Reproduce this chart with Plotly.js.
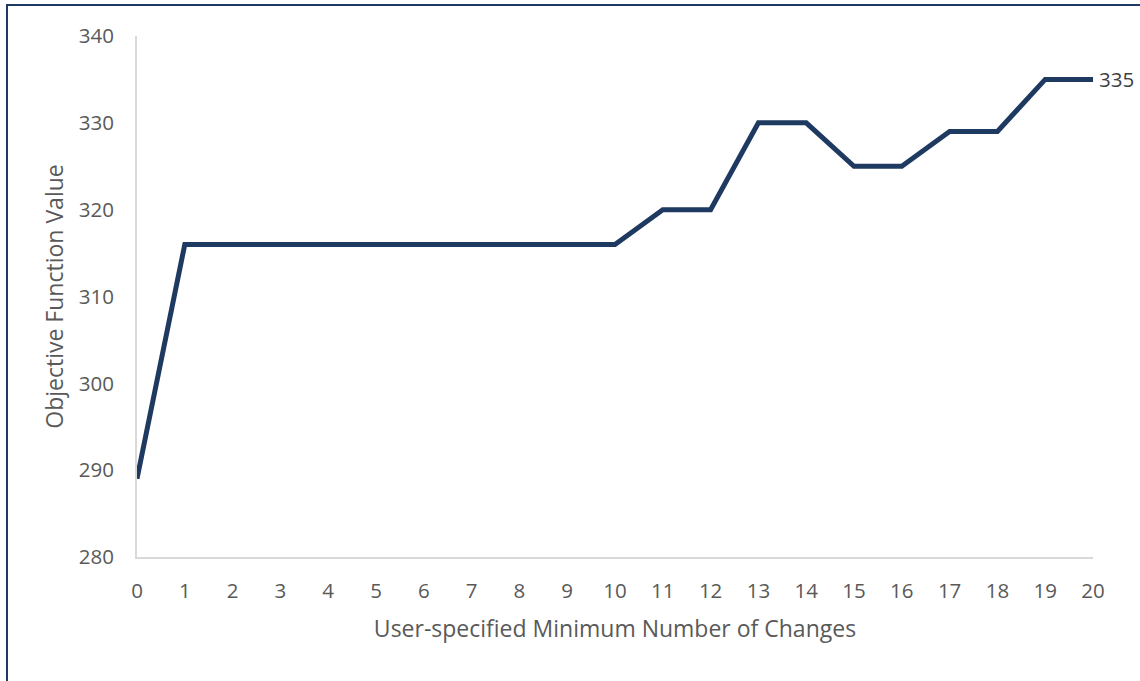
<!DOCTYPE html>
<html>
<head>
<meta charset="utf-8">
<script src="https://cdn.plot.ly/plotly-3.0.1.min.js"></script>
<style>
html,body{margin:0;padding:0;background:#fff;}
#wrap{position:relative;width:1140px;height:681px;overflow:hidden;}
#chart{width:1140px;height:681px;}
#frame{position:absolute;left:6px;top:4px;width:1200px;height:800px;border-left:2px solid #1f3864;border-top:2px solid #1f3864;pointer-events:none;}
</style>
</head>
<body>
<div id="wrap"><div id="chart"></div><div id="frame"></div></div>
<script>
const changes = [0,1,2,3,4,5,6,7,8,9,10,11,12,13,14,15,16,17,18,19,20];
const objectiveValues = [289,316,316,316,316,316,316,316,316,316,316,320,320,330,330,325,325,329,329,335,335];
const xTickLabels = changes.map(String);
const yTicks = [280,290,300,310,320,330,340];

const font = 'Open Sans, Liberation Sans, sans-serif';
const lastIdx = objectiveValues.length - 1;

const trace = {
  x: changes,
  y: objectiveValues,
  mode: 'lines',
  line: {color: '#1f3a60', width: 5},
  hoverinfo: 'x+y'
};

const layout = {
  width: 1140, height: 681,
  margin: {l: 137, r: 47, t: 36, b: 124},
  paper_bgcolor: '#fff', plot_bgcolor: '#fff',
  showlegend: false,
  xaxis: {
    range: [0, 20],
    tickvals: changes, ticktext: xTickLabels,
    showgrid: false, zeroline: false,
    showline: true, linecolor: '#d9d9d9', linewidth: 2,
    ticks: '', ticklabelstandoff: 14,
    tickfont: {family: font, size: 20.5, color: '#595959'},
    title: {text: 'User-specified Minimum Number of Changes', font: {family: font, size: 23, color: '#595959'}, standoff: 18}
  },
  yaxis: {
    range: [280, 340],
    tickvals: yTicks,
    showgrid: false, zeroline: false,
    showline: true, linecolor: '#d9d9d9', linewidth: 2,
    ticks: '', ticklabelstandoff: 17,
    tickfont: {family: font, size: 20.5, color: '#595959'},
    title: {text: 'Objective Function Value', font: {family: font, size: 23, color: '#595959'}, standoff: 9}
  },
  annotations: [{
    x: changes[lastIdx], y: objectiveValues[lastIdx],
    xref: 'x', yref: 'y',
    text: String(objectiveValues[lastIdx]),
    showarrow: false, xanchor: 'left', yanchor: 'middle', xshift: 4,
    font: {family: font, size: 20.5, color: '#404040'}
  }]
};

Plotly.newPlot('chart', [trace], layout, {displayModeBar: false, staticPlot: true});
</script>
</body>
</html>
